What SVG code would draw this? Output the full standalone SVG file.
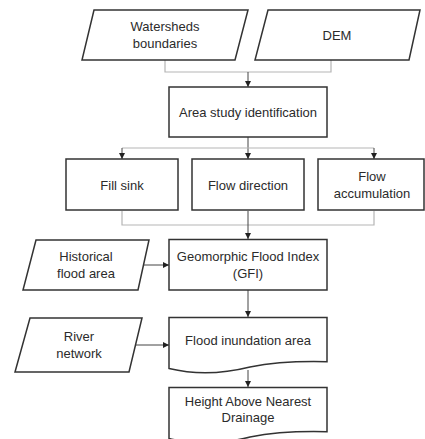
<svg xmlns="http://www.w3.org/2000/svg" width="425" height="439" viewBox="0 0 425 439">
<style>
.n{fill:#fff;stroke:#333;stroke-width:1.5}
.t{font-family:"Liberation Sans",Arial,sans-serif;font-size:13px;fill:#2b2b2b;text-anchor:middle}
.g{fill:none;stroke:#b5b5b5;stroke-width:1.2}
.d{fill:none;stroke:#444;stroke-width:1;marker-end:url(#ah)}
</style>
<defs>
<marker id="ah" viewBox="0 0 8 8" refX="8" refY="4" markerWidth="6" markerHeight="6" markerUnits="userSpaceOnUse" orient="auto">
<path d="M0,0 L8,4 L0,8 Z" fill="#222"/>
</marker>
</defs>
<rect width="425" height="439" fill="#fff"/>
<g id="connectors">
<path class="g" d="M165,60 V72 H331 V60"/>
<path class="d" d="M248,72 V87"/>
<path class="d" d="M248,137 V159"/>
<path class="g" d="M122,148 H374"/>
<path class="d" d="M122,148 V159"/>
<path class="d" d="M374,148 V159"/>
<path class="g" d="M122,211 V225 H374 V211"/>
<path class="d" d="M248,211 V239"/>
<path class="d" d="M144,265 H169"/>
<path class="d" d="M248,290 V317"/>
<path class="d" d="M136,345 H169"/>
<path class="d" d="M248,370 V387"/>
</g>
<g id="watersheds">
<path class="n" d="M94,10 H248 L235,60 H82 Z"/>
<text class="t" x="165" y="31">Watersheds</text>
<text class="t" x="165" y="48">boundaries</text>
</g>
<g id="dem">
<path class="n" d="M268,10 H420 L409,60 H255 Z"/>
<text class="t" x="337" y="39.5">DEM</text>
</g>
<g id="area">
<rect class="n" x="169" y="87" width="158" height="50"/>
<text class="t" x="248" y="117">Area study identification</text>
</g>
<g id="fill">
<rect class="n" x="66" y="159" width="112" height="51"/>
<text class="t" x="122" y="189.5">Fill sink</text>
</g>
<g id="flowdir">
<rect class="n" x="192" y="159" width="112" height="51"/>
<text class="t" x="248" y="189.5">Flow direction</text>
</g>
<g id="flowacc">
<rect class="n" x="318" y="159" width="106" height="51"/>
<text class="t" x="372" y="181">Flow</text>
<text class="t" x="372" y="198">accumulation</text>
</g>
<g id="historical">
<path class="n" d="M36,240 H149 L138,290 H23 Z"/>
<text class="t" x="86" y="261">Historical</text>
<text class="t" x="86" y="278">flood area</text>
</g>
<g id="gfi">
<rect class="n" x="169" y="239.5" width="158" height="50.5"/>
<text class="t" x="248" y="261">Geomorphic Flood Index</text>
<text class="t" x="248" y="278">(GFI)</text>
</g>
<g id="river">
<path class="n" d="M30,318 H142 L129,372 H15 Z"/>
<text class="t" x="79" y="341">River</text>
<text class="t" x="79" y="358">network</text>
</g>
<g id="flood">
<path class="n" d="M169,317.5 H327 V361.7 C300,361 275,362 250,367 C230,372 200,376 169,368.5 Z"/>
<text class="t" x="248" y="344.5">Flood inundation area</text>
</g>
<g id="hand">
<path class="n" d="M169,387.5 H327 V431.7 C300,431 275,432 250,437 C230,442 200,446 169,438.5 Z"/>
<text class="t" x="248" y="405.5">Height Above Nearest</text>
<text class="t" x="248" y="422">Drainage</text>
</g>
</svg>
